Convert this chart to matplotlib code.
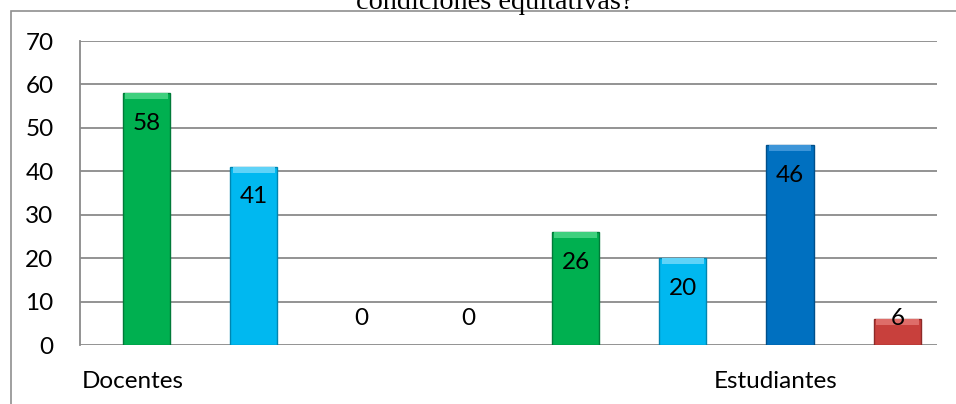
"""Bar chart: Docentes vs Estudiantes (condiciones equitativas?)"""

import matplotlib
matplotlib.use('Agg')
import matplotlib.pyplot as plt
from matplotlib.patches import Rectangle

categories = ["Docentes", "Estudiantes"]
green_vals = [58, 26]
lightblue_vals = [41, 20]
darkblue_vals = [0, 46]
red_vals = [0, 6]
y_ticks = [0, 10, 20, 30, 40, 50, 60, 70]
title = "condiciones equitativas?"

series = [green_vals, lightblue_vals, darkblue_vals, red_vals]
colors = ['#00b050', '#00b8f0', '#0070c0', '#c8403c']
edge_colors = ['#007a38', '#0085b0', '#004f8a', '#8e2a28']
top_colors = ['#3fd07e', '#5fd3f8', '#3d95d8', '#de6d69']
FS = 17.5

W, H = 956, 404
fig = plt.figure(figsize=(W / 100, H / 100), dpi=100)
ax = fig.add_axes([80 / W, 1 - 345 / H, (937 - 80) / W, (345 - 41) / H])

n_series = len(series)
bar_w = 0.44
for i, vals in enumerate(series):
    for g, v in enumerate(vals):
        x = g * n_series + i
        if v > 0:
            ax.bar(x, v, width=bar_w, color=colors[i], edgecolor=edge_colors[i],
                   linewidth=1.0, zorder=3)
            band = min(1.4, v * 0.3)
            ax.bar(x, band, bottom=v - band, width=bar_w * 0.9, color=top_colors[i],
                   linewidth=0, zorder=4)
        label_y = max(v - 6.9, 6.0)
        ax.text(x, label_y, f"{v}", ha='center', va='center', fontsize=FS,
                family='Lato', color='black', zorder=5)

ax.set_xlim(-0.62, 7.37)
ax.set_ylim(0, 70)
ax.set_yticks(y_ticks)
ax.set_yticklabels([str(t) for t in y_ticks], fontsize=FS, family='Lato')
ax.tick_params(axis='y', length=0, pad=19)
ax.set_xticks([])
ax.grid(axis='y', color='#8a8a8a', linewidth=1.3, zorder=0)
for side in ['top', 'right', 'bottom']:
    ax.spines[side].set_visible(False)
ax.spines['left'].set_color('#8a8a8a')
ax.spines['left'].set_linewidth(1.3)

# category labels under the axis (positions as in the original layout)
label_pos = [-0.126, 5.87]
for pos, name in zip(label_pos, categories):
    ax.text(pos, -8.3, name, ha='center', va='center', fontsize=FS,
            family='Lato', color='black')

# outer chart frame and clipped title
fig.patches.append(Rectangle((11 / W, -0.1), 1.2, 1.1 - 11.5 / H,
                             transform=fig.transFigure, fill=False,
                             edgecolor='#8f8f8f', linewidth=1.2))
fig.text(495 / W, 1 - 9 / H, title, ha='center', va='baseline',
         fontsize=20.3, family='Liberation Serif', color='black')

fig.savefig('out.png', dpi=100)
